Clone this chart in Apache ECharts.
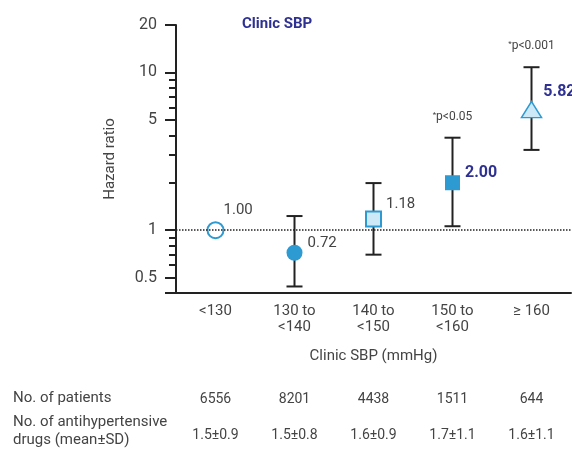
<!DOCTYPE html>
<html>
<head>
<meta charset="utf-8">
<style>
  html, body { margin: 0; padding: 0; background: #fff; }
  #main { width: 572px; height: 457px; }
</style>
<script src="https://cdn.jsdelivr.net/npm/echarts@6/dist/echarts.min.js"></script>
</head>
<body>
<div id="main"></div>
<script>
// data
var categories = ['<130', '130 to\n<140', '140 to\n<150', '150 to\n<160', '\u2265 160'];
var hr = [1.00, 0.72, 1.18, 2.00, 5.82];
var ciLow = [null, 0.44, 0.70, 1.06, 3.23];
var ciHigh = [null, 1.23, 1.99, 3.86, 10.8];
var pText = ['', '', '', 'p<0.05', 'p<0.001'];
var patients = ['6556', '8201', '4438', '1511', '644'];
var drugs = ['1.5\u00b10.9', '1.5\u00b10.8', '1.6\u00b10.9', '1.7\u00b11.1', '1.6\u00b11.1'];
var yLabels = [0.5, 1, 5, 10, 20];
var yMinor = [0.6, 0.7, 0.8, 0.9, 2, 3, 4, 6, 7, 8, 9];

var blue = '#2e9ad2';
var light = '#cde9f8';
var navy = '#2e3192';
var grey = '#444';
var font = 'Roboto';

// marker look per group
var symbols = ['circle', 'circle', 'rect', 'rect', 'triangle'];
var sizes = [16, 16, 15, 15, [20, 16]];
var fills = ['#fff', blue, light, blue, light];
var borders = [2, 0, 2, 0, 1.5];
var bold = [false, false, false, true, true];
var offs = [[-6, -20], [0, -9], [-1, -15], [0, -10], [-4, -18]];

var points = hr.map(function (v, i) {
  return {
    value: [i, v],
    symbol: symbols[i],
    symbolSize: sizes[i],
    itemStyle: { color: fills[i], borderColor: blue, borderWidth: borders[i], opacity: 1 },
    label: {
      show: true,
      position: 'right',
      offset: offs[i],
      formatter: v.toFixed(2),
      fontFamily: font,
      fontSize: bold[i] ? 16 : 15,
      fontWeight: bold[i] ? 'bold' : 'normal',
      color: bold[i] ? navy : grey
    }
  };
});

var bars = [];
hr.forEach(function (v, i) {
  if (ciLow[i] != null) bars.push([i, ciLow[i], ciHigh[i], pText[i]]);
});

var chart = echarts.init(document.getElementById('main'));
chart.setOption({
  animation: false,
  grid: { left: 176, right: 1, top: 25, bottom: 164 },
  title: {
    text: 'Clinic SBP',
    left: 237, top: 12,
    textStyle: { fontFamily: font, fontSize: 15, fontWeight: 'bold', color: navy }
  },
  graphic: [
    { type: 'text', left: 13, top: 391, style: { text: 'No. of patients', font: '15px ' + font, fill: grey } },
    { type: 'text', left: 13, top: 413, style: { text: 'No. of antihypertensive\ndrugs (mean\u00b1SD)', font: '15px ' + font, fill: grey, lineHeight: 18 } }
  ],
  xAxis: [{
    type: 'category',
    data: categories,
    name: 'Clinic SBP (mmHg)',
    nameLocation: 'middle',
    nameGap: 56,
    nameTextStyle: { fontFamily: font, fontSize: 15, color: grey },
    axisLine: { lineStyle: { color: '#222', width: 2 } },
    axisTick: { length: 8, lineStyle: { color: '#222', width: 2 } },
    axisLabel: { fontFamily: font, fontSize: 15, color: grey, lineHeight: 16, margin: 10 }
  }, {
    type: 'category',
    data: patients,
    position: 'bottom',
    offset: 91,
    axisLine: { show: false },
    axisTick: { show: false },
    axisLabel: { fontFamily: font, fontSize: 14, color: grey }
  }, {
    type: 'category',
    data: drugs,
    position: 'bottom',
    offset: 127,
    axisLine: { show: false },
    axisTick: { show: false },
    axisLabel: { fontFamily: font, fontSize: 14, color: grey }
  }],
  yAxis: [{
    type: 'log',
    logBase: 10,
    min: 0.4,
    max: 20,
    name: 'Hazard ratio',
    nameLocation: 'middle',
    nameGap: 58,
    nameTextStyle: { fontFamily: font, fontSize: 15, color: grey },
    splitLine: { show: false },
    axisLine: { show: true, onZero: false, lineStyle: { color: '#222', width: 2 } },
    axisTick: { show: true, length: 11, customValues: [0.4].concat(yLabels), lineStyle: { color: '#222', width: 2 } },
    axisLabel: { customValues: yLabels, fontFamily: font, fontSize: 16, color: grey, margin: 19 }
  }, {
    type: 'log',
    logBase: 10,
    min: 0.4,
    max: 20,
    position: 'left',
    splitLine: { show: false },
    axisLine: { show: false },
    axisTick: { show: true, length: 7, customValues: yMinor, lineStyle: { color: '#222', width: 2 } },
    axisLabel: { show: false }
  }],
  series: [{
    type: 'custom',
    z: 2,
    data: bars,
    renderItem: function (params, api) {
      var top = api.coord([api.value(0), api.value(2)]);
      var bot = api.coord([api.value(0), api.value(1)]);
      var w = 8;
      var st = { stroke: '#222', lineWidth: 2 };
      var kids = [
        { type: 'line', shape: { x1: top[0], y1: top[1], x2: bot[0], y2: bot[1] }, style: st },
        { type: 'line', shape: { x1: top[0] - w, y1: top[1], x2: top[0] + w, y2: top[1] }, style: st },
        { type: 'line', shape: { x1: bot[0] - w, y1: bot[1], x2: bot[0] + w, y2: bot[1] }, style: st }
      ];
      var p = bars[params.dataIndex][3];
      if (p) {
        kids.push({
          type: 'text',
          x: top[0], y: top[1] - 21,
          style: {
            text: '{s|*}{t|' + p + '}',
            align: 'center', verticalAlign: 'middle',
            rich: {
              s: { fontSize: 8, fill: grey, fontFamily: font, verticalAlign: 'top', padding: [0, 0, 4, 0] },
              t: { fontSize: 12, fill: grey, fontFamily: font }
            }
          }
        });
      }
      return { type: 'group', children: kids };
    }
  }, {
    type: 'scatter',
    z: 3,
    data: points,
    markLine: {
      silent: true,
      symbol: 'none',
      label: { show: false },
      lineStyle: { type: 'dotted', color: '#222', width: 1.5 },
      data: [{ yAxis: 1 }]
    }
  }]
});
</script>
</body>
</html>
